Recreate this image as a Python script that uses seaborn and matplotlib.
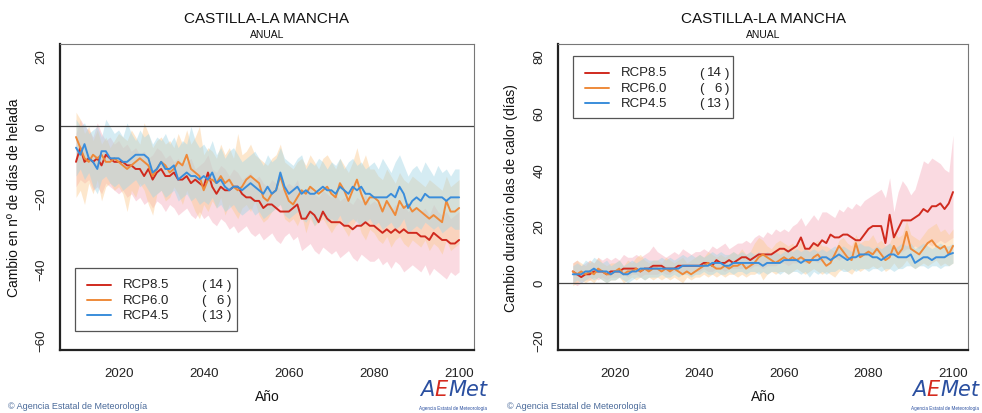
import numpy as np
import pandas as pd
import matplotlib
matplotlib.use("Agg")
import matplotlib.pyplot as plt
import seaborn as sns
from matplotlib.ticker import MultipleLocator
from matplotlib.lines import Line2D
from matplotlib.patches import Rectangle

sns.set_style("white")
plt.rcParams['font.family'] = ['Liberation Sans', 'DejaVu Sans']

years = list(range(2010, 2101))
scenarios = ["RCP8.5", "RCP6.0", "RCP4.5"]
model_counts = ["14", "6", "13"]

# ---------------- Left panel: frost days change ----------------
frost_rcp85 = [-10, -6, -10, -9, -10, -9, -11, -8, -9, -10,
               -10, -10, -11, -11, -12, -12, -14, -12, -15, -13,
               -12, -14, -14, -13, -15, -15, -14, -16, -15, -16,
               -17, -13, -17, -19, -17, -18, -18, -17, -17, -19,
               -20, -20, -21, -21, -23, -22, -22, -23, -24, -24,
               -24, -23, -22, -26, -26, -24, -25, -27, -24, -26,
               -27, -27, -27, -28, -28, -29, -28, -28, -27, -28,
               -28, -29, -30, -29, -30, -29, -30, -29, -30, -30,
               -30, -31, -31, -32, -30, -31, -32, -32, -33, -33,
               -32]
frost_rcp60 = [-3, -6, -9, -10, -8, -9, -8, -10, -10, -9,
               -10, -11, -12, -11, -10, -9, -10, -11, -14, -12,
               -10, -11, -13, -12, -10, -11, -8, -12, -13, -14,
               -18, -15, -15, -16, -14, -16, -15, -17, -18, -17,
               -15, -14, -15, -16, -20, -21, -19, -18, -14, -18,
               -21, -22, -20, -18, -19, -17, -18, -19, -18, -17,
               -19, -20, -16, -18, -21, -18, -15, -19, -22, -20,
               -20, -21, -24, -21, -23, -25, -21, -23, -22, -24,
               -23, -24, -25, -26, -25, -26, -27, -21, -24, -24,
               -23]
frost_rcp45 = [-6, -8, -5, -9, -10, -12, -7, -7, -9, -9,
               -9, -10, -10, -9, -8, -8, -8, -9, -13, -12,
               -10, -12, -12, -11, -15, -14, -13, -14, -14, -15,
               -14, -15, -13, -16, -15, -17, -18, -17, -17, -18,
               -17, -16, -17, -18, -19, -17, -19, -18, -13, -17,
               -19, -18, -17, -19, -18, -19, -19, -18, -17, -18,
               -18, -19, -17, -18, -19, -17, -18, -17, -19, -19,
               -20, -20, -20, -20, -19, -20, -17, -19, -23, -21,
               -20, -21, -19, -20, -20, -20, -20, -21, -20, -20,
               -20]
frost_rcp85_low = [-17, -15, -16, -15, -18, -17, -19, -16, -17, -18,
                   -19, -18, -20, -19, -21, -20, -22, -21, -23, -21,
                   -22, -24, -22, -23, -25, -24, -23, -25, -26, -24,
                   -26, -25, -27, -28, -26, -27, -29, -28, -30, -29,
                   -28, -30, -31, -30, -32, -31, -30, -32, -33, -31,
                   -30, -32, -31, -35, -34, -33, -35, -36, -34, -35,
                   -36, -35, -37, -36, -35, -37, -38, -36, -37, -38,
                   -38, -37, -39, -38, -40, -38, -39, -41, -40, -39,
                   -40, -41, -39, -42, -40, -41, -42, -43, -41, -42,
                   -41]
frost_rcp85_high = [-2, 2, 0, -1, -3, 1, -2, -4, -3, -5,
                    -4, -6, -5, -7, -6, -8, -7, -9, -8, -6,
                    -7, -9, -8, -10, -9, -11, -10, -9, -12, -11,
                    -10, -8, -12, -13, -11, -12, -14, -12, -13, -15,
                    -14, -13, -15, -14, -16, -17, -15, -16, -18, -17,
                    -16, -17, -15, -19, -18, -17, -19, -20, -18, -19,
                    -20, -19, -21, -20, -21, -22, -20, -21, -19, -22,
                    -21, -22, -23, -21, -24, -22, -23, -22, -24, -23,
                    -23, -24, -23, -25, -22, -24, -25, -24, -26, -25,
                    -24]
frost_rcp60_low = [-20, -18, -22, -16, -19, -15, -21, -17, -16, -18,
                   -17, -19, -24, -18, -20, -16, -18, -22, -25, -19,
                   -18, -21, -20, -17, -19, -22, -18, -21, -24, -26,
                   -22, -24, -21, -23, -20, -25, -22, -24, -26, -23,
                   -22, -24, -21, -25, -27, -26, -24, -23, -22, -26,
                   -27, -26, -28, -25, -30, -26, -28, -27, -26, -28,
                   -30, -28, -27, -29, -31, -28, -26, -30, -32, -29,
                   -30, -32, -33, -31, -34, -32, -31, -33, -34, -32,
                   -33, -34, -32, -35, -33, -34, -36, -32, -35, -34,
                   -33]
frost_rcp60_high = [4, 2, -2, 0, -4, -1, -5, -3, -6, -4,
                    -2, -3, -4, -1, -3, -5, 1, -2, -6, -4,
                    -3, -5, -4, -6, -2, -5, -1, -5, -3, 0,
                    -8, -6, -7, -9, -5, -8, -6, -9, -2, -8,
                    -7, -5, -8, -9, -10, -11, -9, -8, -5, -10,
                    -11, -12, -10, -9, -11, -8, -10, -12, -9, -8,
                    -10, -12, -9, -11, -13, -10, -6, -11, -8, -12,
                    -12, -14, -15, -12, -14, -16, -13, -15, -16, -14,
                    -15, -16, -17, -15, -16, -17, -18, -14, -17, -16,
                    -15]
frost_rcp45_low = [-14, -12, -15, -13, -17, -19, -15, -14, -16, -17,
                   -16, -18, -17, -16, -15, -17, -16, -18, -20, -19,
                   -18, -20, -19, -18, -21, -20, -19, -21, -20, -22,
                   -21, -22, -20, -23, -22, -24, -23, -22, -24, -25,
                   -24, -23, -25, -24, -26, -25, -24, -23, -22, -25,
                   -26, -25, -24, -26, -27, -25, -28, -26, -25, -27,
                   -26, -27, -25, -28, -27, -26, -27, -28, -27, -26,
                   -28, -27, -29, -28, -27, -29, -28, -26, -30, -29,
                   -28, -29, -27, -28, -29, -28, -30, -29, -28, -29,
                   -29]
frost_rcp45_high = [2, 0, 1, -2, -1, 0, -3, 2, 0, -2,
                    -1, -3, 1, -2, -4, -1, -3, -2, -5, -3,
                    -4, -2, -5, -3, -6, -4, -5, 0, -4, -6,
                    -5, -7, -4, -8, -6, -9, -7, -6, -8, -10,
                    -9, -8, -7, -9, -11, -8, -10, -9, -6, -9,
                    -10, -11, -9, -8, -12, -10, -11, -9, -10, -12,
                    -10, -11, -9, -12, -10, -9, -11, -10, -12, -11,
                    -10, -12, -9, -11, -13, -10, -8, -11, -14, -12,
                    -11, -13, -10, -12, -14, -11, -13, -12, -14, -12,
                    -12]

# ---------------- Right panel: heat wave duration change ----------------
heat_rcp85 = [4, 3, 2, 3, 3, 4, 4, 4, 3, 4,
              4, 4, 5, 5, 5, 5, 4, 5, 5, 6,
              6, 6, 5, 5, 5, 6, 6, 6, 6, 6,
              6, 7, 7, 6, 8, 7, 7, 8, 7, 8,
              9, 9, 8, 9, 10, 10, 10, 10, 11, 12,
              12, 11, 12, 13, 16, 12, 12, 14, 13, 15,
              14, 17, 16, 16, 17, 17, 16, 15, 15, 17,
              19, 20, 20, 20, 14, 24, 16, 19, 22, 22,
              22, 23, 24, 26, 25, 27, 27, 28, 26, 28,
              32]
heat_rcp60 = [4, 3, 4, 3, 4, 3, 5, 4, 3, 3,
              4, 5, 3, 4, 4, 5, 4, 5, 4, 5,
              5, 4, 5, 4, 5, 4, 3, 4, 3, 4,
              5, 6, 7, 6, 5, 5, 6, 5, 6, 6,
              7, 5, 6, 7, 9, 10, 9, 8, 7, 8,
              9, 8, 9, 8, 9, 8, 7, 9, 10, 8,
              6, 7, 10, 13, 11, 9, 8, 14, 9, 10,
              11, 10, 12, 10, 8, 9, 13, 10, 12, 18,
              12, 11, 10, 12, 14, 15, 13, 12, 13, 10,
              13]
heat_rcp45 = [3, 3, 3, 4, 4, 5, 4, 4, 4, 3,
              4, 4, 3, 3, 4, 4, 5, 5, 5, 5,
              5, 5, 5, 5, 5, 5, 6, 6, 6, 6,
              6, 6, 6, 7, 7, 7, 6, 6, 7, 7,
              7, 7, 7, 7, 7, 6, 7, 7, 7, 7,
              8, 8, 8, 8, 7, 8, 8, 8, 8, 9,
              9, 8, 9, 10, 9, 8, 9, 9, 10, 10,
              10, 9, 9, 8, 9, 10, 10, 9, 9, 9,
              10, 7, 8, 9, 9, 8, 9, 9, 9, 10,
              10.5]
heat_rcp85_low = [0, -1, 0, 1, 1, 2, 1, 2, 1, 2,
                  2, 2, 3, 2, 3, 3, 2, 3, 3, 3,
                  3, 4, 3, 3, 4, 4, 3, 4, 4, 4,
                  4, 5, 4, 4, 5, 5, 4, 5, 5, 5,
                  5, 6, 5, 6, 6, 5, 6, 6, 6, 7,
                  7, 6, 7, 7, 8, 7, 7, 8, 7, 8,
                  8, 8, 9, 8, 9, 9, 8, 9, 9, 10,
                  10, 10, 11, 10, 8, 11, 10, 10, 11, 12,
                  12, 13, 12, 13, 14, 13, 14, 15, 14, 15,
                  16]
heat_rcp85_high = [7, 8, 6, 7, 8, 7, 9, 8, 9, 8,
                   9, 8, 10, 9, 9, 10, 9, 10, 11, 13,
                   11, 10, 9, 10, 11, 10, 12, 11, 10, 11,
                   11, 12, 11, 13, 12, 13, 14, 12, 13, 14,
                   14, 15, 14, 16, 17, 16, 18, 17, 19, 18,
                   19, 18, 20, 21, 23, 20, 22, 24, 22, 25,
                   25, 24, 23, 26, 25, 27, 26, 28, 27, 29,
                   30, 31, 32, 33, 30, 37, 25, 32, 36, 34,
                   31, 33, 38, 43, 42, 44, 43, 42, 40, 39,
                   52]
heat_rcp60_low = [-1, 0, 1, 0, 1, 0, 2, 1, 0, 1,
                  1, 2, 0, 1, 2, 1, 2, 1, 2, 1,
                  2, 1, 2, 1, 2, 1, 0, 2, 1, 2,
                  2, 3, 2, 3, 2, 3, 2, 3, 3, 2,
                  3, 2, 3, 3, 4, 1, 3, 4, 3, 4,
                  4, 3, 4, 5, 4, 3, 4, 5, 4, 3,
                  4, 3, 2, 4, 5, 4, 3, 5, 4, 5,
                  5, 6, 5, 6, 4, 5, 7, 5, 6, 8,
                  6, 5, 6, 7, 6, 7, 8, 6, 7, 6,
                  7]
heat_rcp60_high = [7, 8, 7, 6, 8, 7, 9, 7, 6, 7,
                   7, 8, 6, 8, 7, 9, 10, 8, 7, 8,
                   8, 7, 9, 8, 7, 8, 9, 7, 8, 9,
                   10, 9, 11, 10, 9, 10, 9, 10, 11, 10,
                   12, 10, 11, 14, 16, 15, 13, 12, 14, 15,
                   14, 13, 14, 12, 15, 13, 12, 14, 15, 13,
                   13, 12, 11, 15, 16, 14, 13, 17, 14, 15,
                   15, 17, 14, 15, 13, 14, 18, 16, 17, 22,
                   17, 16, 15, 17, 19, 20, 21, 18, 19, 17,
                   19]
heat_rcp45_low = [0, 1, 0, 1, 2, 1, 2, 1, 0, 1,
                  1, 2, 1, 0, 1, 2, 2, 1, 2, 2,
                  2, 3, 2, 2, 3, 2, 3, 3, 2, 3,
                  3, 4, 3, 3, 4, 3, 3, 4, 3, 4,
                  4, 3, 4, 4, 3, 4, 3, 4, 4, 3,
                  4, 3, 4, 4, 3, 4, 2, 4, 3, 4,
                  3, 4, 4, 5, 4, 4, 5, 4, 5, 5,
                  4, 5, 5, 4, 5, 5, 4, 5, 5, 6,
                  6, 5, 6, 6, 5, 6, 6, 5, 6, 6,
                  7]
heat_rcp45_high = [6, 7, 6, 8, 7, 9, 8, 7, 8, 6,
                   7, 8, 6, 7, 8, 7, 8, 9, 8, 8,
                   8, 9, 8, 9, 8, 9, 10, 9, 10, 9,
                   10, 9, 10, 11, 10, 11, 10, 10, 11, 10,
                   11, 10, 11, 10, 11, 10, 11, 10, 11, 10,
                   11, 12, 11, 12, 11, 12, 11, 12, 11, 12,
                   11, 12, 13, 12, 13, 12, 11, 13, 14, 13,
                   13, 12, 13, 12, 13, 14, 12, 13, 14, 13,
                   14, 12, 13, 14, 13, 12, 13, 14, 13, 13,
                   14]

title = "CASTILLA-LA MANCHA"
subtitle = "ANUAL"
left_ylabel = "Cambio en n\u00ba de d\u00edas de helada"
right_ylabel = "Cambio duraci\u00f3n olas de calor (d\u00edas)"
xlabel = "A\u00f1o"
left_yticks = [-60, -40, -20, 0, 20]
right_yticks = [-20, 0, 20, 40, 60, 80]
xticks = [2020, 2040, 2060, 2080, 2100]
footer = "\u00a9 Agencia Estatal de Meteorolog\u00eda"
logo_parts = [("A", "#2A4FA0"), ("E", "#D42A1E"), ("Met", "#2A4FA0")]
logo_caption = "Agencia Estatal de Meteorolog\u00eda"

line_colors = {"RCP8.5": "#D02A1E", "RCP6.0": "#EE8A3A", "RCP4.5": "#3A8DDB"}
band_colors = {"RCP8.5": "#F6AEBE", "RCP6.0": "#FCCB92", "RCP4.5": "#A3D6E6"}


def make_df(means):
    frames = []
    for sc, vals in zip(scenarios, means):
        frames.append(pd.DataFrame({"year": years, "value": vals, "scenario": sc}))
    return pd.concat(frames, ignore_index=True)


W, H = 982, 414
fig = plt.figure(figsize=(W / 100, H / 100), dpi=100)
renderer = fig.canvas.get_renderer()

panels = [
    dict(rect=(60 / W, 1 - 351 / H, 414 / W, 306 / H),
         means=[frost_rcp85, frost_rcp60, frost_rcp45],
         lows=[frost_rcp85_low, frost_rcp60_low, frost_rcp45_low],
         highs=[frost_rcp85_high, frost_rcp60_high, frost_rcp45_high],
         ylim=(-63.0, 23.2), yticks=left_yticks, ylabel=left_ylabel,
         xlim=(2006.24, 2103.5), legend_loc=(75, 269, 237, 332),
         ylab_x=14, foot_x=8, logo_x=420),
    dict(rect=(558 / W, 1 - 351 / H, 410 / W, 306 / H),
         means=[heat_rcp85, heat_rcp60, heat_rcp45],
         lows=[heat_rcp85_low, heat_rcp60_low, heat_rcp45_low],
         highs=[heat_rcp85_high, heat_rcp60_high, heat_rcp45_high],
         ylim=(-23.7, 84.2), yticks=right_yticks, ylabel=right_ylabel,
         xlim=(2006.5, 2103.55), legend_loc=(573, 57, 733, 119),
         ylab_x=511, foot_x=507, logo_x=912),
]

for p in panels:
    ax = fig.add_axes(p["rect"])
    for sc, lo, hi in zip(scenarios, p["lows"], p["highs"]):
        ax.fill_between(years, lo, hi, color=band_colors[sc], alpha=0.45, linewidth=0)
    df = make_df(p["means"])
    sns.lineplot(data=df, x="year", y="value", hue="scenario", hue_order=scenarios,
                 palette=line_colors, linewidth=1.4, ax=ax, legend=False, zorder=3)
    ax.axhline(0, color="#444444", linewidth=0.9, zorder=2)
    ax.set_xlim(*p["xlim"])
    ax.set_ylim(*p["ylim"])
    ax.set_xticks(xticks)
    ax.xaxis.set_minor_locator(MultipleLocator(5))
    ax.set_yticks(p["yticks"])
    ax.yaxis.set_minor_locator(MultipleLocator(5))
    ax.tick_params(axis="both", which="major", direction="out", length=6, width=1,
                   color="#222222", labelsize=9.5, labelcolor="#222222")
    ax.tick_params(axis="both", which="minor", direction="out", length=3, width=0.8,
                   color="#555555")
    ax.tick_params(axis="x", which="major", pad=6)
    ax.tick_params(axis="y", which="major", pad=3)
    for lab in ax.get_yticklabels():
        lab.set_rotation(90)
        lab.set_va("center")
    ax.set_xlabel("")
    ax.set_ylabel("")
    for side in ["left", "bottom"]:
        ax.spines[side].set_color("#222222")
        ax.spines[side].set_linewidth(1.6)
    for side in ["top", "right"]:
        ax.spines[side].set_color("#777777")
        ax.spines[side].set_linewidth(0.8)
    ax.grid(False)

    # Legend box (pixels -> axes coords)
    x0p, y0p, x1p, y1p = p["legend_loc"]
    axx0 = p["rect"][0] * W
    axw = p["rect"][2] * W

    def ax_x(px):
        return (px - axx0) / axw

    def ax_y(py):
        return (351 - py) / 306

    ax.add_patch(Rectangle((ax_x(x0p), ax_y(y1p)), ax_x(x1p) - ax_x(x0p), ax_y(y0p) - ax_y(y1p),
                           transform=ax.transAxes, facecolor="white", edgecolor="#555555",
                           linewidth=0.9, zorder=5))
    for i, (sc, n) in enumerate(zip(scenarios, model_counts)):
        cy = y0p + 16.5 + 15.2 * i
        ax.add_line(Line2D([ax_x(x0p + 12), ax_x(x0p + 36)], [ax_y(cy), ax_y(cy)],
                           transform=ax.transAxes, color=line_colors[sc], linewidth=1.4, zorder=6))
        ax.text(ax_x(x0p + 48), ax_y(cy), sc, transform=ax.transAxes, fontsize=9.5,
                va="center", ha="left", color="#222222", zorder=6)
        ax.text(ax_x(x0p + 126), ax_y(cy), "(", transform=ax.transAxes, fontsize=9.5,
                va="center", ha="left", color="#222222", zorder=6)
        ax.text(ax_x(x0p + 149), ax_y(cy), n, transform=ax.transAxes, fontsize=9.5,
                va="center", ha="right", color="#222222", zorder=6)
        ax.text(ax_x(x0p + 156), ax_y(cy), ")", transform=ax.transAxes, fontsize=9.5,
                va="center", ha="right", color="#222222", zorder=6)

    cx = (p["rect"][0] + p["rect"][2] / 2)
    fig.text(cx, 1 - 19 / H, title, ha="center", va="center", fontsize=11, color="#111111")
    fig.text(cx, 1 - 35 / H, subtitle, ha="center", va="center", fontsize=7.5, color="#111111")
    fig.text(cx, 1 - 397 / H, xlabel, ha="center", va="center", fontsize=10, color="#111111")
    fig.text(p["ylab_x"] / W, 1 - 198 / H, p["ylabel"], ha="center", va="center",
             rotation=90, fontsize=10, color="#111111")
    fig.text(p["foot_x"] / W, 1 - 407 / H, footer, ha="left", va="center",
             fontsize=6.5, color="#4A6A9A")
    # Logo: pieces placed side by side using measured widths
    cur = p["logo_x"]
    for txt, col in logo_parts:
        t = fig.text(cur / W, 1 - 390 / H, txt, ha="left", va="center", fontsize=15,
                     style="italic", color=col, family=["DejaVu Sans"])
        bb = t.get_window_extent(renderer=renderer)
        cur += bb.width + 0.5
    fig.text((p["logo_x"] + 33) / W, 1 - 409 / H, logo_caption, ha="center",
             va="center", fontsize=3.3, color="#2A4FA0")

fig.savefig("out.png", dpi=100)
